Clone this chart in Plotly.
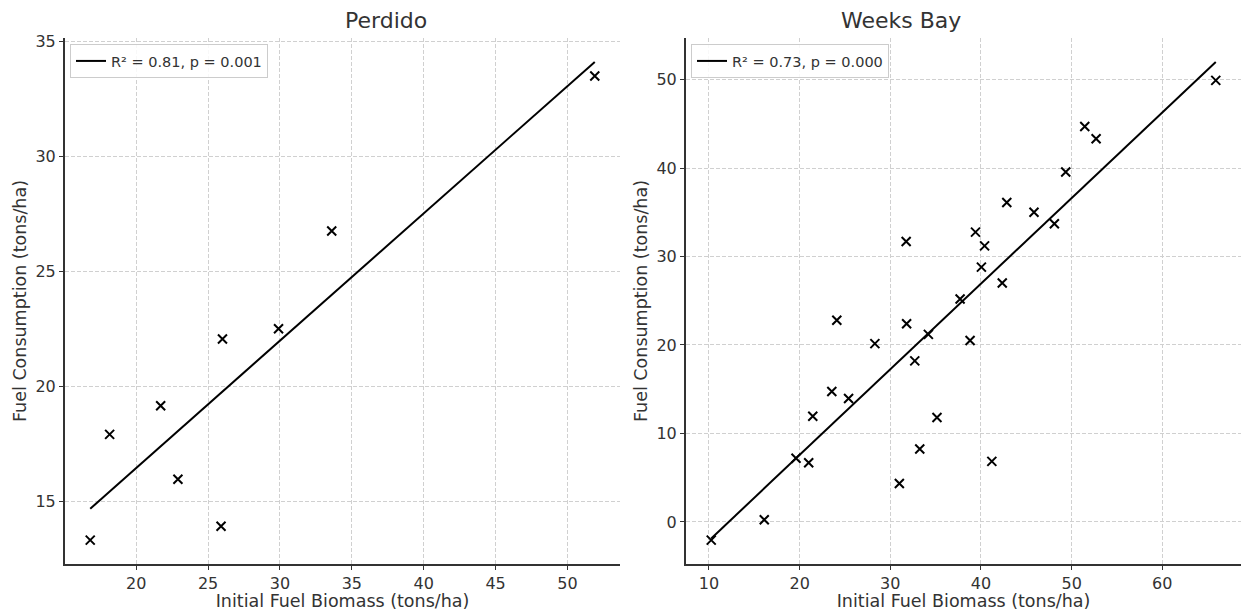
import numpy as np
import plotly.graph_objects as go
from plotly.subplots import make_subplots

# Perdido plots: initial fuel biomass vs fuel consumption (tons/ha)
perdido_biomass = [16.8, 18.15, 21.7, 22.9, 25.9, 26.0, 29.9, 33.6, 51.9]
perdido_consumption = [13.3, 17.9, 19.15, 15.95, 13.9, 22.05, 22.5, 26.75, 33.5]
perdido_label = "R² = 0.81, p = 0.001"

# Weeks Bay plots
weeks_biomass = [
    10.25, 16.1, 19.6, 21.0, 21.45, 23.55, 24.1, 25.4, 28.3, 31.0,
    31.75, 31.8, 32.7, 33.25, 34.2, 35.15, 37.7, 38.8, 39.4, 40.05,
    40.4, 41.2, 42.35, 42.85, 45.85, 48.1, 49.35, 51.45, 52.7, 65.9,
]
weeks_consumption = [
    -2.05, 0.25, 7.2, 6.7, 11.95, 14.75, 22.8, 13.95, 20.15, 4.35,
    31.7, 22.4, 18.2, 8.25, 21.2, 11.8, 25.2, 20.5, 32.75, 28.8,
    31.2, 6.85, 27.0, 36.1, 35.0, 33.7, 39.55, 44.7, 43.3, 49.9,
]
weeks_label = "R² = 0.73, p = 0.000"

site_titles = ["Perdido", "Weeks Bay"]
x_title = "Initial Fuel Biomass (tons/ha)"
y_title = "Fuel Consumption (tons/ha)"

TEXT = "#333333"
FONT = "DejaVu Sans"

W, H = 1241, 611
ML, MR, MT, MB = 65, 0, 38, 47
plot_w = W - ML - MR
plot_h = H - MT - MB
left_dom = [0.0, (620 - ML) / plot_w]
right_dom = [(686 - ML) / plot_w, 1.0]


def fit_line(x, y):
    x = np.asarray(x, float)
    y = np.asarray(y, float)
    slope, intercept = np.polyfit(x, y, 1)
    xs = np.array([x.min(), x.max()])
    return xs, slope * xs + intercept


def padded(lo, hi, frac=0.05):
    span = hi - lo
    return [lo - frac * span, hi + frac * span]


fig = make_subplots(rows=1, cols=2, horizontal_spacing=0.05)

panels = [
    (perdido_biomass, perdido_consumption, perdido_label, "legend", 5, 5),
    (weeks_biomass, weeks_consumption, weeks_label, "legend2", 10, 10),
]

for i, (bx, cy, lab, leg, dx, dy) in enumerate(panels, start=1):
    lx, ly = fit_line(bx, cy)
    fig.add_trace(
        go.Scatter(
            x=bx, y=cy, mode="markers", showlegend=False,
            marker=dict(symbol="x-thin", size=9, color="black",
                        line=dict(color="black", width=2)),
        ),
        row=1, col=i,
    )
    fig.add_trace(
        go.Scatter(
            x=lx, y=ly, mode="lines", name=lab, legend=leg,
            line=dict(color="black", width=2),
        ),
        row=1, col=i,
    )
    xr = padded(min(min(bx), lx.min()), max(max(bx), lx.max()))
    yr = padded(min(min(cy), ly.min()), max(max(cy), ly.max()))
    axis_common = dict(
        showline=True, linecolor=TEXT, linewidth=2, mirror=False,
        ticks="outside", ticklen=4, tickwidth=1, tickcolor=TEXT,
        showgrid=True, gridcolor="#d0d0d0", griddash="4px,2px", gridwidth=1,
        zeroline=False,
        tickfont=dict(family=FONT, size=16, color=TEXT),
        title_font=dict(family=FONT, size=17.5, color=TEXT),
    )
    fig.update_xaxes(
        range=xr, dtick=dx, tick0=0,
        domain=left_dom if i == 1 else right_dom,
        title_text=x_title, title_standoff=2,
        row=1, col=i, **axis_common,
    )
    fig.update_yaxes(
        range=yr, dtick=dy, tick0=0, domain=[0, 1],
        title_text=y_title, title_standoff=4,
        row=1, col=i, **axis_common,
    )

legend_common = dict(
    xanchor="left", yanchor="top",
    bgcolor="rgba(255,255,255,0.85)", bordercolor="#cccccc", borderwidth=1,
    font=dict(family=FONT, size=14.5, color=TEXT),
    itemwidth=30,
)
fig.update_layout(
    legend=dict(x=left_dom[0] + 5 / plot_w, y=1 - 6 / plot_h, **legend_common),
    legend2=dict(x=right_dom[0] + 5 / plot_w, y=1 - 6 / plot_h, **legend_common),
)

for dom, name in zip([left_dom, right_dom], site_titles):
    fig.add_annotation(
        text=name, x=(dom[0] + dom[1]) / 2, y=1, xref="paper", yref="paper",
        yanchor="bottom", yshift=3, showarrow=False,
        font=dict(family=FONT, size=22, color=TEXT),
    )

fig.update_layout(
    width=W, height=H,
    margin=dict(l=ML, r=MR, t=MT, b=MB, pad=0),
    paper_bgcolor="white", plot_bgcolor="white",
    font=dict(family=FONT, color=TEXT),
)

fig.write_html("out.html")
